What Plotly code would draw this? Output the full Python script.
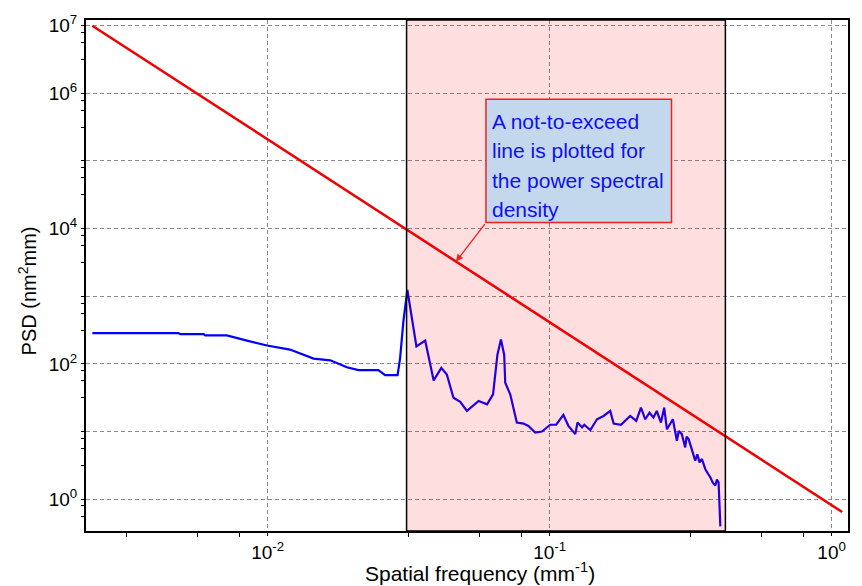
import plotly.graph_objects as go

# Measured power spectral density (blue trace)
psd_freq = [
    0.00239, 0.00483, 0.00490, 0.00593, 0.00601, 0.00717, 0.00845, 0.00995,
    0.0120, 0.01456, 0.01668, 0.0191, 0.0210, 0.0247, 0.0261, 0.0289,
    0.0295, 0.0303, 0.0313, 0.0337, 0.0362, 0.0388, 0.0413, 0.0432,
    0.0456, 0.0482, 0.0509, 0.0560, 0.0600, 0.0630, 0.0653, 0.0672,
    0.0690, 0.0696, 0.0725, 0.0765, 0.0808, 0.0841, 0.0889, 0.0939,
    0.1005, 0.1055, 0.1119, 0.1166, 0.1233, 0.1256, 0.1303, 0.1327,
    0.1394, 0.1472, 0.1553, 0.1640, 0.1686, 0.1790, 0.1931, 0.2028,
    0.2108, 0.2183, 0.2261, 0.2334, 0.2399, 0.2481, 0.2548, 0.2606,
    0.2735, 0.2826, 0.2870, 0.2943, 0.3025, 0.3060, 0.3111, 0.3200,
    0.3283, 0.3340, 0.3400, 0.3467, 0.3563, 0.3640, 0.3713, 0.3790,
    0.3867, 0.3920, 0.3972, 0.4008, 0.4030,
]
psd_vals = [
    286, 286, 276, 276, 264, 264, 221, 187,
    163, 120, 113, 89.4, 80.8, 80.8, 68.2, 68.2,
    122, 425, 1242, 182, 221, 57.0, 87.4, 69.8,
    31.6, 27.6, 20.2, 28.3, 25.3, 35.5, 137, 229,
    137, 52.6, 35.5, 13.6, 13.1, 12.1, 9.67, 10.0,
    12.6, 12.6, 17.6, 12.1, 9.16, 13.6, 11.5, 12.6,
    10.5, 15.2, 17.0, 20.2, 13.1, 12.6, 17.0, 14.4,
    22.5, 15.2, 19.0, 16.1, 20.2, 13.6, 22.5, 10.8,
    15.2, 7.3, 10.2, 9.16, 5.82, 8.4, 7.73, 5.2,
    3.71, 4.6, 3.5, 3.93, 2.80, 2.4, 2.11, 1.75,
    1.59, 1.95, 1.78, 0.72, 0.397,
]

# Not-to-exceed limit (red line)
limit_freq = [0.00239, 1.09]
limit_vals = [1.0e7, 0.646]

# Band of interest (shaded)
band_freq = [0.0311, 0.42]

# Axis ticks
x_major = [0.01, 0.1, 1.0]
x_major_text = ["10<sup>-2</sup>", "10<sup>-1</sup>", "10<sup>0</sup>"]
y_major = [1, 10, 100, 1e3, 1e4, 1e5, 1e6, 1e7]
y_major_text = ["10<sup>0</sup>", "", "10<sup>2</sup>", "", "10<sup>4</sup>", "",
                "10<sup>6</sup>", "10<sup>7</sup>"]
minor_offsets = [0.5, 0.75, 0.9]
x_minor = [10 ** (d + o) for d in range(-3, 1) for o in minor_offsets]
y_minor = [10 ** (d + o) for d in range(-1, 8) for o in minor_offsets]

note_lines = ["A not-to-exceed", "line is plotted for", "the power spectral", "density"]

# Figure geometry (pixels)
W, H = 862, 586
L, R, T, B = 86, 14, 17, 55
PW, PH = W - L - R, H - T - B


def px(xp):
    return (xp - L) / PW


def py(yp):
    return (H - B - yp) / PH


FONT = "Liberation Sans, Arial, sans-serif"

fig = go.Figure()
fig.add_trace(go.Scatter(x=limit_freq, y=limit_vals, mode="lines",
                         line=dict(color="#f00000", width=2.5), hoverinfo="skip"))
fig.add_trace(go.Scatter(x=psd_freq, y=psd_vals, mode="lines",
                         line=dict(color="#0000ff", width=2.2), hoverinfo="skip"))

# Shaded frequency band
fig.add_shape(type="rect", xref="x", yref="paper", x0=band_freq[0], x1=band_freq[1],
              y0=0, y1=1, fillcolor="rgba(255,0,10,0.13)",
              line=dict(color="black", width=1.5), layer="above")

# Callout box
fig.add_shape(type="rect", xref="paper", yref="paper",
              x0=px(486), x1=px(671.5), y0=py(220.7), y1=py(96.7),
              fillcolor="#c3d8ec", line=dict(color="#f02020", width=1.5), layer="above")

for i, line in enumerate(note_lines):
    fig.add_annotation(xref="paper", yref="paper", x=px(489.5), y=py(119 + 29.5 * i),
                       xanchor="left", yanchor="middle", showarrow=False, text=line,
                       font=dict(family=FONT, size=21, color="#1010f0"))

# Arrow from the callout to the limit line
fig.add_annotation(xref="paper", yref="paper", x=px(456), y=py(260), text="",
                   showarrow=True, ax=30, ay=-39, arrowhead=2, arrowsize=1.1,
                   arrowwidth=1.3, arrowcolor="#f02020")

# Axis titles
fig.add_annotation(xref="paper", yref="paper", x=px(480), y=py(572), text="Spatial frequency (mm<sup>-1</sup>)",
                   showarrow=False, xanchor="center", yanchor="middle",
                   font=dict(family=FONT, size=21, color="black"))
fig.add_annotation(xref="paper", yref="paper", x=px(27), y=py(289), text="PSD (nm<sup>2</sup>mm)",
                   showarrow=False, textangle=-90, xanchor="center", yanchor="middle",
                   font=dict(family=FONT, size=20, color="black"))

axis_common = dict(
    type="log", showline=True, linecolor="black", linewidth=2, mirror=True,
    showgrid=True, gridcolor="#8a8a8a", gridwidth=1, griddash="4px,3px",
    ticks="outside", ticklen=3, tickcolor="black", tickwidth=1,
    tickfont=dict(family=FONT, size=19, color="black"), zeroline=False,
    tickmode="array",
)

fig.update_xaxes(**axis_common, range=[-2.644, 0.058], tickvals=x_major, ticktext=x_major_text,
                 minor=dict(tickmode="array", tickvals=x_minor, ticks="outside", ticklen=4,
                            tickcolor="black", showgrid=False))
fig.update_yaxes(**axis_common, range=[-0.47, 7.084], tickvals=y_major, ticktext=y_major_text,
                 ticklabelstandoff=0,
                 minor=dict(tickmode="array", tickvals=y_minor, ticks="outside", ticklen=3,
                            tickcolor="black", showgrid=False))

fig.update_layout(width=W, height=H, margin=dict(l=L, r=R, t=T, b=B),
                  paper_bgcolor="white", plot_bgcolor="white", showlegend=False,
                  font=dict(family=FONT))

fig.write_html("out.html")
